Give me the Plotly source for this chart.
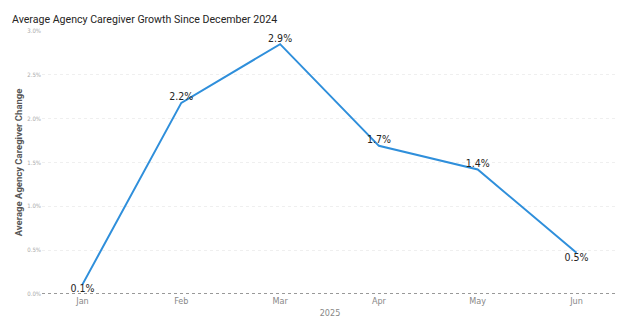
import plotly.graph_objects as go

months = ["Jan", "Feb", "Mar", "Apr", "May", "Jun"]
values = [0.0011, 0.0218, 0.0285, 0.0169, 0.0142, 0.0047]
labels = ["0.1%", "2.2%", "2.9%", "1.7%", "1.4%", "0.5%"]
tick_vals = [0, 0.005, 0.01, 0.015, 0.02, 0.025, 0.03]
tick_text = ["0.0%", "0.5%", "1.0%", "1.5%", "2.0%", "2.5%", "3.0%"]
text_pos = ["bottom center", "top center", "top center", "top center", "top center", "bottom center"]

font = "DejaVu Sans Condensed"
tfont = "Roboto"

fig = go.Figure()
fig.add_trace(go.Scatter(
    x=list(range(len(months))), y=values, mode="lines+text",
    text=labels, textposition=text_pos,
    textfont=dict(family=font, size=10.5, color="#252423"),
    line=dict(color="#2F8FDB", width=2),
    hoverinfo="skip", showlegend=False,
))

fig.update_layout(
    width=624, height=328,
    margin=dict(l=42, r=6, t=31, b=34),
    paper_bgcolor="white", plot_bgcolor="white",
    title=dict(text="Average Agency Caregiver Growth Since December 2024",
               x=12/624, xanchor="left", y=1-19/328, yanchor="middle",
               font=dict(family=tfont, size=10.6, color="#252423")),
    xaxis=dict(tickmode="array", tickvals=list(range(len(months))), ticktext=months,
               range=[-0.41, 5.42], showgrid=False, zeroline=False, showline=False,
               tickfont=dict(family=font, size=9, color="#888888"),
               title=dict(text="2025", font=dict(family=font, size=9, color="#888888"), standoff=4),
               ticks="", ticklen=0),
    yaxis=dict(tickmode="array", tickvals=tick_vals, ticktext=tick_text,
               range=[0, 0.03], showgrid=True, gridcolor="#EFEFEF", griddash="dot", gridwidth=1,
               zeroline=False, showline=False,
               tickfont=dict(family=font, size=6, color="#AAAAAA"),
               title=dict(text="<b>Average Agency Caregiver Change</b>",
                          font=dict(family=tfont, size=9.5, color="#555555"), standoff=2),
               ticks=""),
)
# dotted zero baseline
fig.add_shape(type="line", xref="paper", yref="y", x0=0, x1=1, y0=0, y1=0,
              line=dict(color="#999999", width=2, dash="dot"))
fig.update_traces(cliponaxis=False)
fig.write_html("out.html")
